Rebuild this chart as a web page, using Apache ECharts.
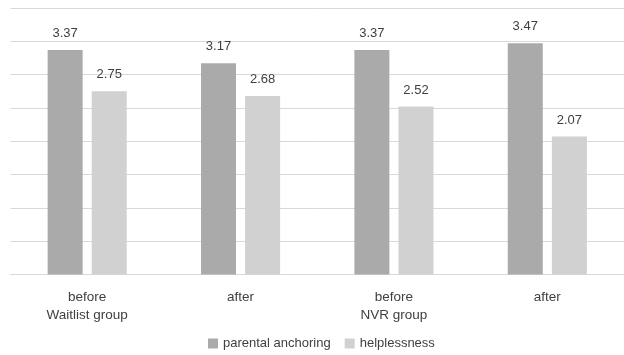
<!DOCTYPE html>
<html>
<head>
<meta charset="utf-8">
<script src="https://cdn.jsdelivr.net/npm/echarts@6/dist/echarts.min.js"></script>
<style>html,body{margin:0;padding:0;background:#fff}#c{width:624px;height:355px}</style>
</head>
<body>
<div id="c"></div>
<script>
var categories = ['before\nWaitlist group', 'after', 'before\nNVR group', 'after'];
var seriesNames = ['parental anchoring', 'helplessness'];
var parentalAnchoring = [3.37, 3.17, 3.37, 3.47];
var helplessness = [2.75, 2.68, 2.52, 2.07];

var FONT = 'Liberation Sans';
var chart = echarts.init(document.getElementById('c'), null, {renderer: 'canvas'});
chart.setOption({
  animation: false,
  textStyle: {fontFamily: FONT},
  grid: {left: 10.5, width: 620, top: 8, bottom: 80.5},
  legend: {
    left: 203,
    top: 332,
    itemWidth: 10, itemHeight: 10, itemGap: 14,
    icon: 'rect',
    textStyle: {fontFamily: FONT, fontSize: 13, color: '#404040'},
    data: seriesNames
  },
  xAxis: {
    type: 'category',
    data: categories,
    axisLine: {show: true, lineStyle: {color: '#D9D9D9', width: 1}},
    axisTick: {show: false},
    axisLabel: {fontFamily: FONT, fontSize: 13.5, color: '#404040', margin: 14, lineHeight: 18}
  },
  yAxis: {
    type: 'value', min: 0, max: 4, interval: 0.5,
    axisLabel: {show: false},
    axisLine: {show: false},
    axisTick: {show: false},
    splitLine: {lineStyle: {color: '#D9D9D9', width: 1}}
  },
  series: [
    {
      name: seriesNames[0], type: 'bar', data: parentalAnchoring,
      barWidth: 35, barGap: '26%',
      itemStyle: {color: '#A9AAA9'},
      label: {show: true, position: 'top', distance: 10, fontFamily: FONT, fontSize: 13, color: '#404040',
        formatter: function(p){return p.value.toFixed(2);}}
    },
    {
      name: seriesNames[1], type: 'bar', data: helplessness,
      barWidth: 35,
      itemStyle: {color: '#D0D1D0'},
      label: {show: true, position: 'top', distance: 10, fontFamily: FONT, fontSize: 13, color: '#404040',
        formatter: function(p){return p.value.toFixed(2);}}
    }
  ]
});
</script>
</body>
</html>
